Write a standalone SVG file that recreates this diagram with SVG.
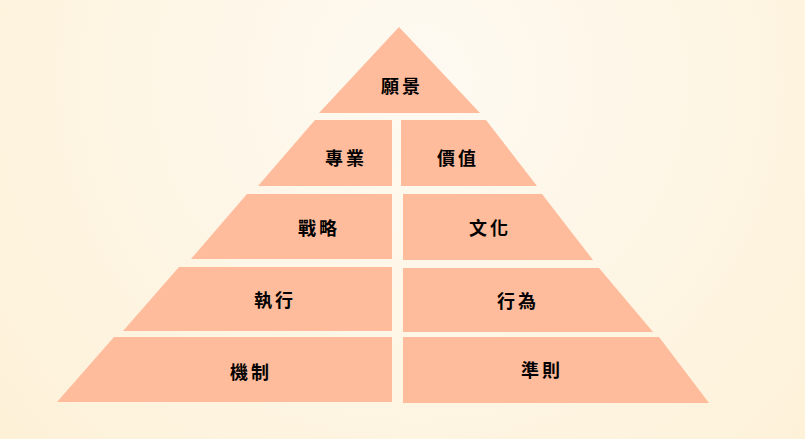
<svg xmlns="http://www.w3.org/2000/svg" width="805" height="439" viewBox="0 0 805 439">
<defs>
<radialGradient id="bg" cx="420" cy="80" r="600" gradientUnits="userSpaceOnUse">
<stop offset="0" stop-color="#fefaf2"/>
<stop offset="1" stop-color="#fdf0d5"/>
</radialGradient>
<style>
.seg{fill:#ffbc9c;}
.lbl{font-family:"Noto Sans CJK TC","Noto Sans CJK SC",sans-serif;font-size:18px;font-weight:bold;fill:#000;text-anchor:middle;dominant-baseline:central;letter-spacing:3px;}
</style>
</defs>
<rect width="805" height="439" fill="url(#bg)"/>
<g id="n-vision"><polygon class="seg" points="399,27 480,113 319,113"/><text class="lbl" x="402" y="85">願景</text></g>
<g id="n-pro"><polygon class="seg" points="315,120 392,120 392,186 258,186"/><text class="lbl" x="346" y="157">專業</text></g>
<g id="n-value"><polygon class="seg" points="401,120 486,120 537,186 401,186"/><text class="lbl" x="458" y="157">價值</text></g>
<g id="n-strategy"><polygon class="seg" points="247,194 392,194 392,259 191,259"/><text class="lbl" x="319" y="227">戰略</text></g>
<g id="n-culture"><polygon class="seg" points="403,194 542,194 593,260 403,260"/><text class="lbl" x="490" y="227">文化</text></g>
<g id="n-exec"><polygon class="seg" points="179,267 392,267 392,331 123,331"/><text class="lbl" x="275" y="299">執行</text></g>
<g id="n-behavior"><polygon class="seg" points="403,268 599,268 653,332 403,332"/><text class="lbl" x="518" y="300">行為</text></g>
<g id="n-mechanism"><polygon class="seg" points="114,337 392,337 392,402 57,402"/><text class="lbl" x="251" y="371">機制</text></g>
<g id="n-norm"><polygon class="seg" points="403,337 659,337 709,403 403,403"/><text class="lbl" x="542" y="369">準則</text></g>
<g id="connectors"></g>
</svg>
